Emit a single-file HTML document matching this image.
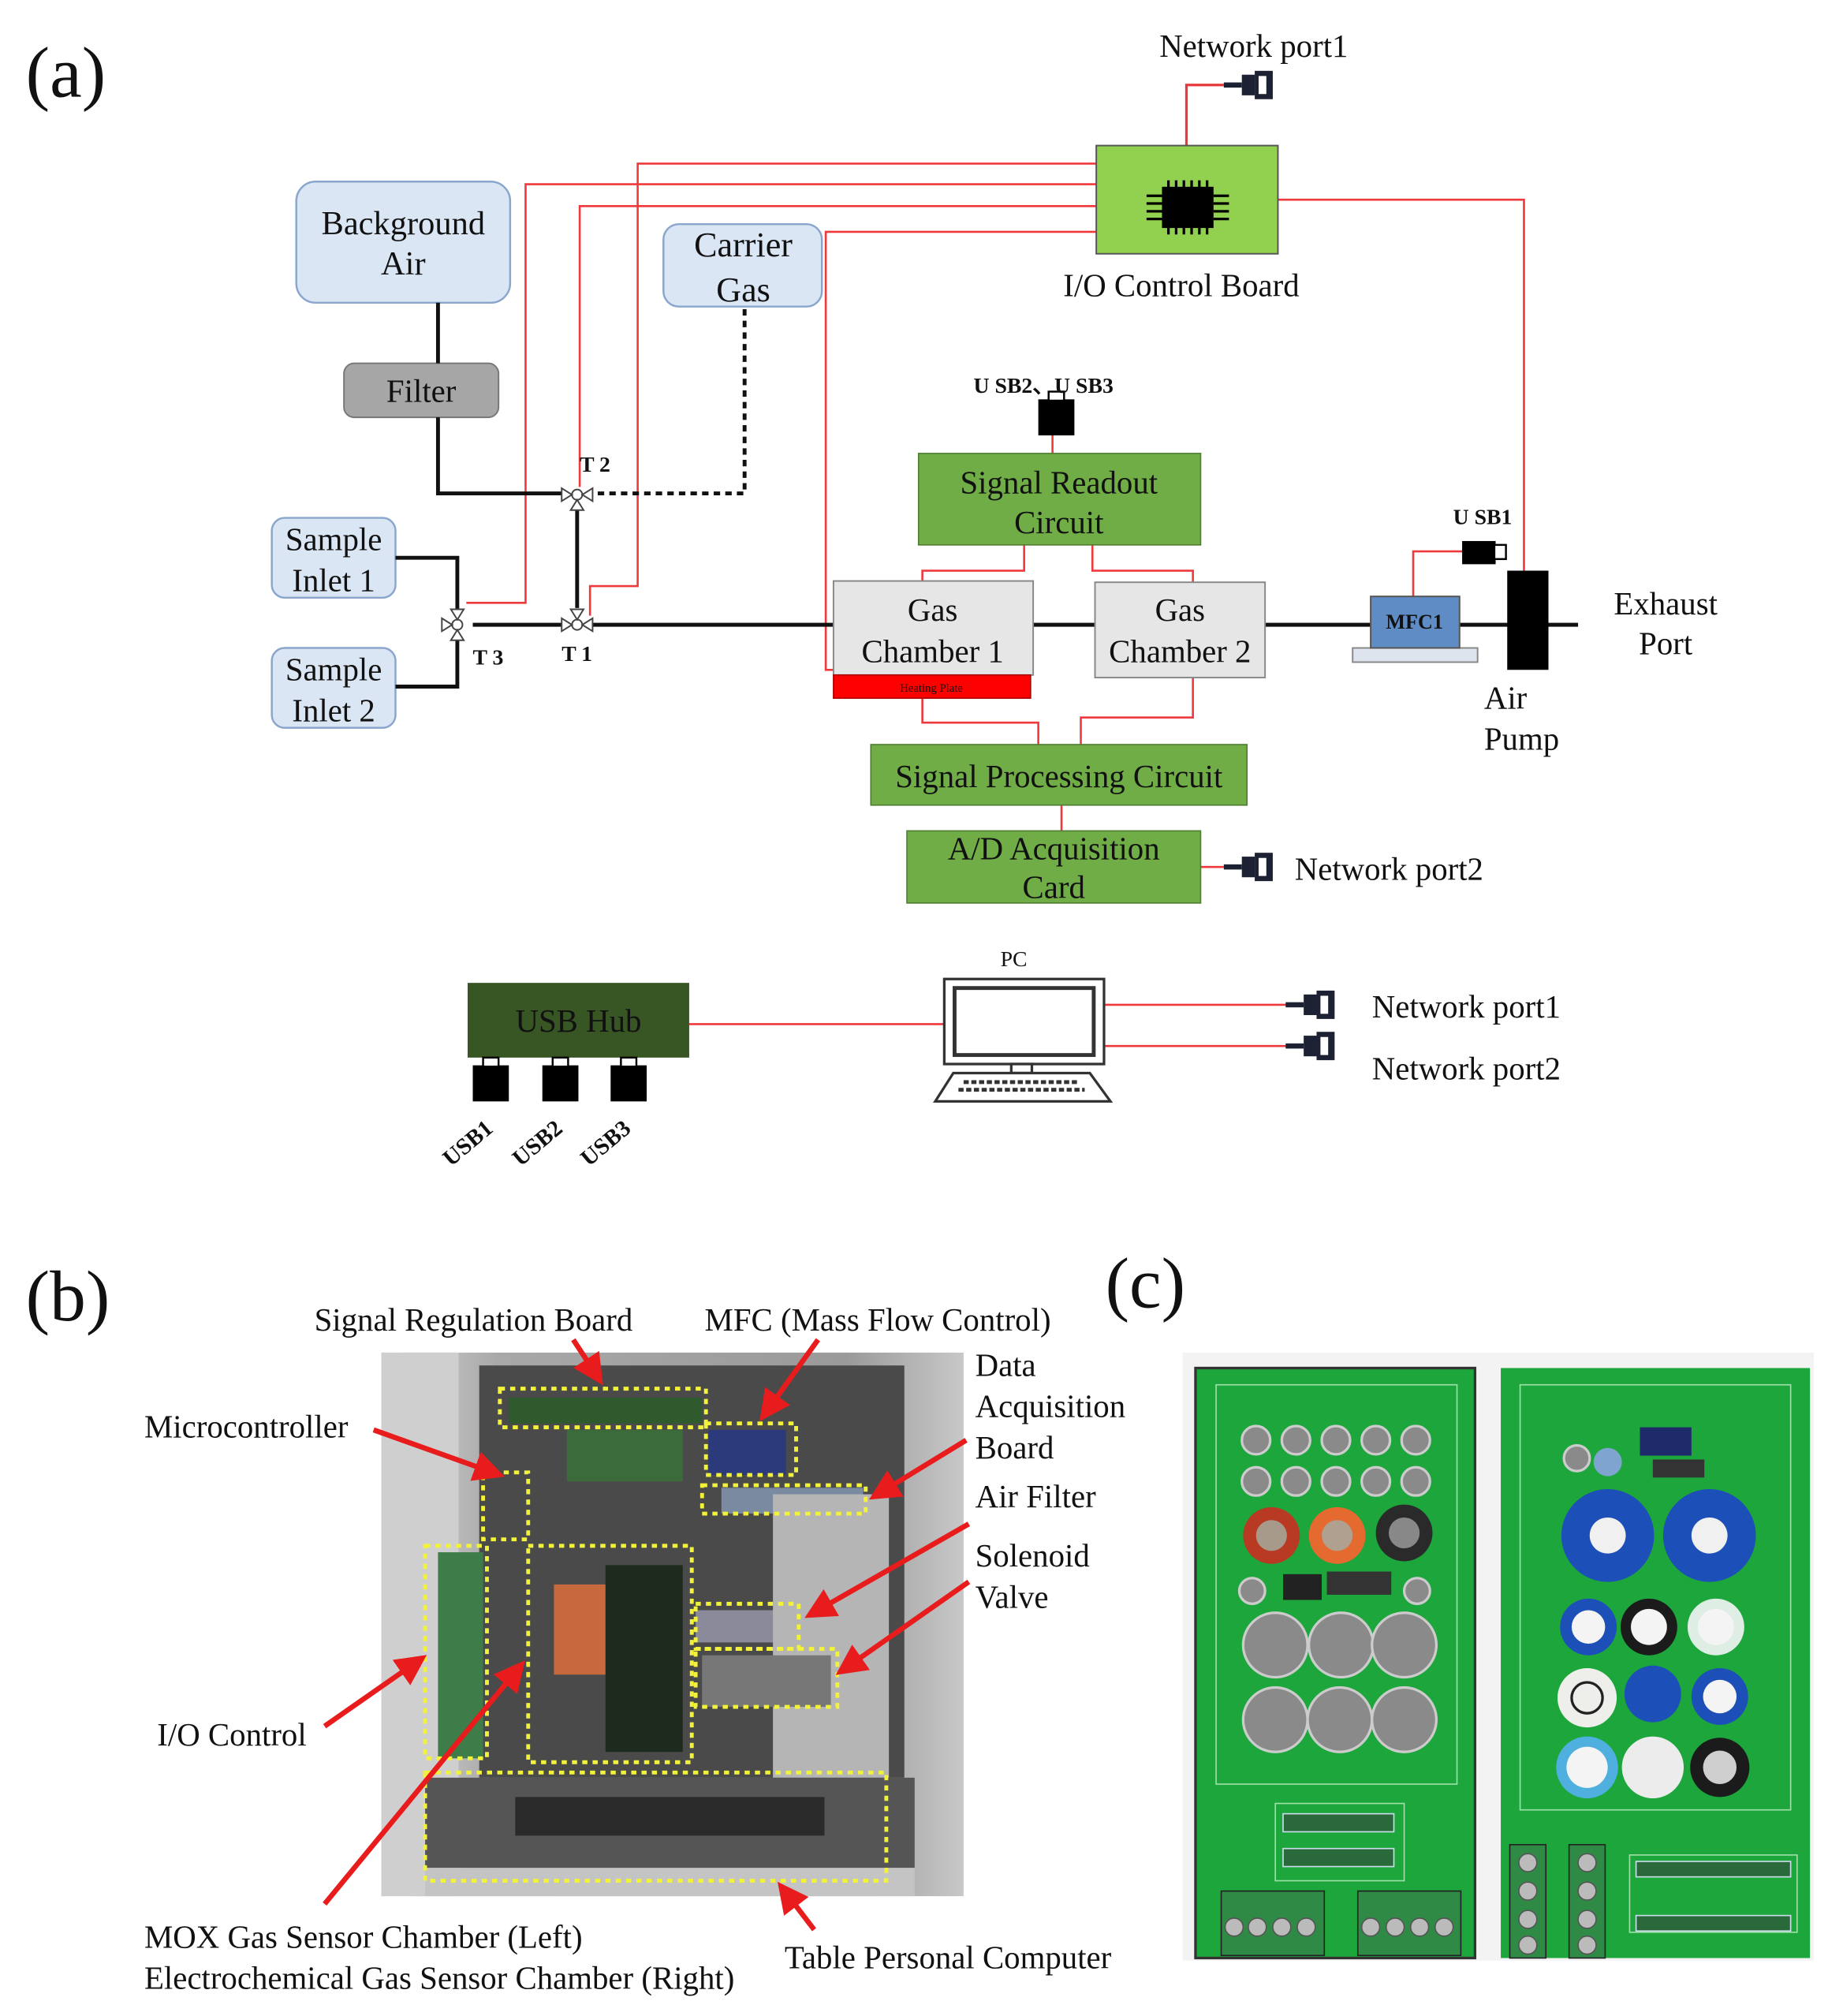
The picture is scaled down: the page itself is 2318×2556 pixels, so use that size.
<!DOCTYPE html>
<html><head><meta charset="utf-8"><style>
html,body{margin:0;padding:0;background:#fff}
svg{display:block}
text{font-family:"Liberation Serif",serif;fill:#111}
</style></head><body>
<svg width="2318" height="2556" viewBox="0 0 1419 1565" preserveAspectRatio="none" xmlns="http://www.w3.org/2000/svg">
<defs>
<marker id="ah" markerWidth="6" markerHeight="6" refX="5" refY="3" orient="auto"><path d="M0,0 L6,3 L0,6 z" fill="#e81c1c"/></marker>
<g id="valve"><circle cx="0" cy="0" r="4" fill="#fff" stroke="#444" stroke-width="1.2"/>
<path d="M-4,0 L-12,-5 L-12,5 z M4,0 L12,-5 L12,5 z M0,4 L-5,12 L5,12 z" fill="#fff" stroke="#444" stroke-width="1.2"/></g>
<g id="net"><rect x="0" y="-2" width="14" height="4" fill="#1c2233"/><rect x="14" y="-8" width="10" height="16" fill="#1c2233"/><rect x="24" y="-11" width="14" height="22" fill="#1c2233"/><rect x="27" y="-7" width="6" height="14" fill="#fff"/></g>
<g id="usb"><rect x="0" y="6" width="28" height="28" fill="#000"/><rect x="8" y="0" width="12" height="7" fill="#fff" stroke="#000" stroke-width="1.5"/></g>
</defs>
<rect width="1419" height="1565" fill="#fff"/>

<!-- (a) -->
<text x="20" y="75" font-size="56">(a)</text>
<text x="900" y="44" font-size="25">Network port1</text>
<polyline points="921,113 921,66 950,66" fill="none" stroke="#e8393d" stroke-width="2"/>
<use href="#net" x="950" y="66"/>

<!-- red wires -->
<g fill="none" stroke="#ef3a3d" stroke-width="1.6">
<polyline points="851,127 495,127 495,455 458,455 458,478"/>
<polyline points="851,143 408,143 408,468 362,468"/>
<polyline points="851,160 450,160 450,378"/>
<polyline points="851,180 641,180 641,520 648,520"/>
<polyline points="992,155 1183,155 1183,443"/>
<polyline points="817,336 817,352"/>
<polyline points="795,423 795,443 716,443 716,451"/>
<polyline points="848,423 848,443 926,443 926,452"/>
<polyline points="716,542 716,561 806,561 806,578"/>
<polyline points="926,526 926,557 839,557 839,578"/>
<polyline points="824,625 824,645"/>
<polyline points="932,673 950,673"/>
<polyline points="1097,463 1097,428 1135,428"/>
<polyline points="535,795 733,795"/>
<polyline points="857,780 1000,780"/>
<polyline points="857,812 1000,812"/>
</g>

<!-- IO board -->
<rect x="851" y="113" width="141" height="84" fill="#92d050" stroke="#555" stroke-width="1.2"/>
<g stroke="#000" stroke-width="2">
<path d="M907,150 v-10 M913,150 v-10 M919,150 v-10 M925,150 v-10 M931,150 v-10 M937,150 v-10 M907,172 v10 M913,172 v10 M919,172 v10 M925,172 v10 M931,172 v10 M937,172 v10 M890,152 h12 M890,158 h12 M890,164 h12 M890,170 h12 M942,152 h12 M942,158 h12 M942,164 h12 M942,170 h12"/>
</g>
<rect x="902" y="145" width="40" height="32" fill="#000"/>
<text x="917" y="230" font-size="25" text-anchor="middle">I/O Control Board</text>

<!-- source boxes -->
<rect x="230" y="141" width="166" height="94" rx="15" fill="#dae6f4" stroke="#8aa6cc" stroke-width="1.5"/>
<text x="313" y="182" font-size="26" text-anchor="middle">Background</text>
<text x="313" y="213" font-size="26" text-anchor="middle">Air</text>
<rect x="515" y="174" width="123" height="64" rx="12" fill="#dae6f4" stroke="#8aa6cc" stroke-width="1.5"/>
<text x="577" y="199" font-size="27" text-anchor="middle">Carrier</text>
<text x="577" y="234" font-size="27" text-anchor="middle">Gas</text>
<rect x="267" y="282" width="120" height="42" rx="8" fill="#a6a6a6" stroke="#777" stroke-width="1.2"/>
<text x="327" y="312" font-size="25" text-anchor="middle">Filter</text>
<rect x="211" y="402" width="96" height="62" rx="10" fill="#dae6f4" stroke="#8aa6cc" stroke-width="1.5"/>
<text x="259" y="427" font-size="25" text-anchor="middle">Sample</text>
<text x="259" y="459" font-size="25" text-anchor="middle">Inlet 1</text>
<rect x="211" y="503" width="96" height="62" rx="10" fill="#dae6f4" stroke="#8aa6cc" stroke-width="1.5"/>
<text x="259" y="528" font-size="25" text-anchor="middle">Sample</text>
<text x="259" y="560" font-size="25" text-anchor="middle">Inlet 2</text>

<!-- black pipes -->
<g fill="none" stroke="#111" stroke-width="3">
<polyline points="340,235 340,282"/>
<polyline points="340,324 340,383 436,383"/>
<polyline points="307,433 355,433 355,474"/>
<polyline points="307,533 355,533 355,496"/>
<polyline points="448,395 448,472"/>
<polyline points="367,485 436,485"/>
<polyline points="460,485 647,485"/>
<polyline points="802,485 850,485"/>
<polyline points="982,485 1225,485"/>
</g>
<polyline points="578,240 578,383 460,383" fill="none" stroke="#111" stroke-width="3" stroke-dasharray="5,4"/>
<use href="#valve" x="448" y="384"/>
<use href="#valve" x="448" y="485" transform="rotate(180 448 485)"/>
<use href="#valve" x="355" y="485" transform="rotate(90 355 485)"/>
<g font-weight="bold" font-size="17"><text x="450" y="366">T 2</text><text x="436" y="513">T 1</text><text x="367" y="516">T 3</text></g>

<!-- chambers -->
<rect x="713" y="352" width="219" height="71" fill="#70ad47" stroke="#4f7e30" stroke-width="1"/>
<text x="822" y="383" font-size="25" text-anchor="middle">Signal Readout</text>
<text x="822" y="414" font-size="25" text-anchor="middle">Circuit</text>
<use href="#usb" x="806" y="304"/>
<text x="810" y="305" font-size="17" font-weight="bold" text-anchor="middle">U SB2、U SB3</text>
<rect x="647" y="451" width="155" height="73" fill="#e7e6e6" stroke="#888" stroke-width="1.2"/>
<text x="724" y="482" font-size="25" text-anchor="middle">Gas</text>
<text x="724" y="514" font-size="25" text-anchor="middle">Chamber 1</text>
<rect x="647" y="524" width="153" height="18" fill="#ff0000" stroke="#a00" stroke-width="1"/>
<text x="723" y="537" font-size="9" text-anchor="middle" fill="#700">Heating Plate</text>
<rect x="850" y="452" width="132" height="74" fill="#e7e6e6" stroke="#888" stroke-width="1.2"/>
<text x="916" y="482" font-size="25" text-anchor="middle">Gas</text>
<text x="916" y="514" font-size="25" text-anchor="middle">Chamber 2</text>
<rect x="676" y="578" width="292" height="47" fill="#70ad47" stroke="#4f7e30" stroke-width="1"/>
<text x="822" y="611" font-size="25" text-anchor="middle">Signal Processing Circuit</text>
<rect x="704" y="645" width="228" height="56" fill="#70ad47" stroke="#4f7e30" stroke-width="1"/>
<text x="818" y="667" font-size="25" text-anchor="middle">A/D Acquisition</text>
<text x="818" y="697" font-size="25" text-anchor="middle">Card</text>
<use href="#net" x="950" y="673"/>
<text x="1005" y="683" font-size="25">Network port2</text>

<!-- MFC / pump -->
<rect x="1050" y="503" width="97" height="11" fill="#dde4ee" stroke="#888" stroke-width="1.2"/>
<rect x="1064" y="463" width="69" height="40" fill="#5f8cc4" stroke="#555" stroke-width="1.2"/>
<text x="1098" y="488" font-size="16" font-weight="bold" text-anchor="middle" fill="#102040">MFC1</text>
<rect x="1135" y="420" width="26" height="18" fill="#000"/><rect x="1160" y="423" width="9" height="11" fill="#fff" stroke="#000" stroke-width="1.5"/>
<text x="1128" y="407" font-size="17" font-weight="bold">U SB1</text>
<rect x="1170" y="443" width="32" height="77" fill="#000"/>
<text x="1293" y="477" font-size="25" text-anchor="middle">Exhaust</text>
<text x="1293" y="508" font-size="25" text-anchor="middle">Port</text>
<text x="1152" y="550" font-size="25">Air</text>
<text x="1152" y="582" font-size="25">Pump</text>

<!-- USB hub / PC -->
<rect x="363" y="763" width="172" height="58" fill="#375623"/>
<text x="449" y="801" font-size="25" text-anchor="middle" fill="#bfbfbf">USB Hub</text>
<use href="#usb" x="367" y="821"/><use href="#usb" x="421" y="821"/><use href="#usb" x="474" y="821"/>
<g font-size="18" font-weight="bold">
<text transform="translate(350,906) rotate(-40)">USB1</text>
<text transform="translate(404,906) rotate(-40)">USB2</text>
<text transform="translate(457,906) rotate(-40)">USB3</text></g>
<text x="787" y="750" font-size="17" text-anchor="middle">PC</text>
<rect x="733" y="760" width="124" height="66" fill="#fff" stroke="#333" stroke-width="2"/>
<rect x="741" y="767" width="108" height="52" fill="#fff" stroke="#333" stroke-width="3"/>
<rect x="785" y="826" width="16" height="7" fill="#fff" stroke="#333" stroke-width="2"/>
<path d="M740,833 L846,833 L862,855 L726,855 z" fill="#fff" stroke="#333" stroke-width="2"/>
<path d="M748,840 h90 M744,846 h98" stroke="#333" stroke-width="3" stroke-dasharray="4,2"/>
<use href="#net" x="998" y="780"/><use href="#net" x="998" y="812"/>
<text x="1065" y="790" font-size="25">Network port1</text>
<text x="1065" y="838" font-size="25">Network port2</text>

<!-- (b) -->
<text x="20" y="1025" font-size="56">(b)</text>
<defs><linearGradient id="gb" x1="0" x2="1"><stop offset="0" stop-color="#d9d9d9"/><stop offset="0.2" stop-color="#a8a8a8"/><stop offset="0.8" stop-color="#9a9a9a"/><stop offset="1" stop-color="#c8c8c8"/></linearGradient></defs>
<rect x="296" y="1050" width="452" height="422" fill="url(#gb)"/>
<rect x="296" y="1050" width="60" height="422" fill="#cfcfcf"/>
<rect x="372" y="1060" width="330" height="320" fill="#4a4a4a"/>
<rect x="395" y="1085" width="150" height="20" fill="#2e5a2e"/>
<rect x="440" y="1110" width="90" height="40" fill="#3b6b3b"/>
<rect x="550" y="1110" width="60" height="35" fill="#2a3a7a"/>
<rect x="560" y="1155" width="110" height="20" fill="#7a8aa0"/>
<rect x="430" y="1230" width="45" height="70" fill="#c8693d"/>
<rect x="470" y="1215" width="60" height="145" fill="#1f2a1f"/>
<rect x="340" y="1205" width="35" height="160" fill="#3e7d4a"/>
<rect x="540" y="1250" width="80" height="25" fill="#8a8a9a"/>
<rect x="600" y="1160" width="90" height="220" fill="#b5b5b5"/>
<rect x="545" y="1285" width="100" height="40" fill="#777"/>
<rect x="330" y="1380" width="380" height="70" fill="#555"/>
<rect x="400" y="1395" width="240" height="30" fill="#2a2a2a"/>
<rect x="330" y="1450" width="380" height="22" fill="#c4c4c4"/>
<g fill="none" stroke="#f2f23a" stroke-width="3" stroke-dasharray="4,4">
<rect x="388" y="1078" width="160" height="30"/>
<rect x="548" y="1105" width="70" height="40"/>
<rect x="545" y="1153" width="127" height="22"/>
<rect x="375" y="1143" width="35" height="52"/>
<rect x="330" y="1200" width="48" height="165"/>
<rect x="410" y="1200" width="127" height="168"/>
<rect x="540" y="1245" width="80" height="35"/>
<rect x="540" y="1280" width="110" height="45"/>
<rect x="330" y="1376" width="358" height="84"/>
</g>
<g stroke="#e81c1c" stroke-width="4" marker-end="url(#ah)">
<line x1="445" y1="1040" x2="466" y2="1072"/>
<line x1="635" y1="1040" x2="592" y2="1100"/>
<line x1="290" y1="1110" x2="388" y2="1145"/>
<line x1="750" y1="1118" x2="678" y2="1162"/>
<line x1="752" y1="1183" x2="628" y2="1254"/>
<line x1="752" y1="1228" x2="652" y2="1298"/>
<line x1="252" y1="1340" x2="328" y2="1287"/>
<line x1="252" y1="1478" x2="405" y2="1292"/>
<line x1="632" y1="1498" x2="606" y2="1464"/>
</g>
<g font-size="25">
<text x="244" y="1033">Signal Regulation Board</text>
<text x="547" y="1033">MFC (Mass Flow Control)</text>
<text x="757" y="1068">Data</text><text x="757" y="1100">Acquisition</text><text x="757" y="1132">Board</text>
<text x="757" y="1170">Air Filter</text>
<text x="757" y="1216">Solenoid</text><text x="757" y="1248">Valve</text>
<text x="112" y="1116">Microcontroller</text>
<text x="122" y="1355">I/O Control</text>
<text x="112" y="1512">MOX Gas Sensor Chamber (Left)</text>
<text x="112" y="1544">Electrochemical Gas Sensor Chamber (Right)</text>
<text x="609" y="1528">Table Personal Computer</text>
</g>

<!-- (c) -->
<text x="858" y="1015" font-size="56">(c)</text>
<rect x="918" y="1050" width="490" height="472" fill="#f3f3f3"/>
<rect x="928" y="1062" width="217" height="458" fill="#1ca63c" stroke="#333" stroke-width="2"/>
<rect x="1165" y="1062" width="240" height="458" fill="#1ca63c"/>
<g fill="none" stroke="#9fe0a8" stroke-width="1"><rect x="944" y="1075" width="187" height="310"/><rect x="1180" y="1075" width="210" height="330"/><rect x="990" y="1400" width="100" height="60"/><rect x="1265" y="1440" width="130" height="60"/></g>
<g fill="#8a8a8a" stroke="#ccc" stroke-width="2">
<circle cx="975" cy="1118" r="11"/><circle cx="1006" cy="1118" r="11"/><circle cx="1037" cy="1118" r="11"/><circle cx="1068" cy="1118" r="11"/><circle cx="1099" cy="1118" r="11"/>
<circle cx="975" cy="1150" r="11"/><circle cx="1006" cy="1150" r="11"/><circle cx="1037" cy="1150" r="11"/><circle cx="1068" cy="1150" r="11"/><circle cx="1099" cy="1150" r="11"/>
<circle cx="972" cy="1235" r="10"/><circle cx="1100" cy="1235" r="10"/>
<circle cx="990" cy="1277" r="25"/><circle cx="1041" cy="1277" r="25"/><circle cx="1090" cy="1277" r="25"/>
<circle cx="990" cy="1335" r="25"/><circle cx="1040" cy="1335" r="25"/><circle cx="1090" cy="1335" r="25"/>
<circle cx="1224" cy="1132" r="10"/>
</g>
<circle cx="987" cy="1192" r="22" fill="#b83a22"/><circle cx="987" cy="1192" r="12" fill="#a89a8a"/>
<circle cx="1038" cy="1192" r="22" fill="#e46a30"/><circle cx="1038" cy="1192" r="12" fill="#b0a090"/>
<circle cx="1090" cy="1190" r="22" fill="#2a2a2a"/><circle cx="1090" cy="1190" r="12" fill="#888"/>
<rect x="996" y="1222" width="30" height="20" fill="#222"/><rect x="1030" y="1220" width="50" height="18" fill="#333"/>
<rect x="1273" y="1108" width="40" height="22" fill="#1e2a6a"/><rect x="1283" y="1133" width="40" height="14" fill="#333"/>
<circle cx="1248" cy="1135" r="11" fill="#7fa4d0"/>
<g>
<circle cx="1248" cy="1192" r="36" fill="#1d4fb8"/><circle cx="1248" cy="1192" r="14" fill="#f0f0f0"/>
<circle cx="1327" cy="1192" r="36" fill="#1d4fb8"/><circle cx="1327" cy="1192" r="14" fill="#f0f0f0"/>
<circle cx="1233" cy="1263" r="22" fill="#1d4fb8"/><circle cx="1233" cy="1263" r="13" fill="#f4f4f4"/>
<circle cx="1280" cy="1263" r="22" fill="#1b1b1b"/><circle cx="1280" cy="1263" r="14" fill="#f4f4f4"/>
<circle cx="1332" cy="1263" r="22" fill="#dfeee5"/><circle cx="1332" cy="1263" r="14" fill="#f4f4f4"/>
<circle cx="1232" cy="1318" r="23" fill="#eeeeea"/><circle cx="1232" cy="1318" r="12" fill="none" stroke="#222" stroke-width="2"/>
<circle cx="1283" cy="1315" r="22" fill="#1d4fb8"/>
<circle cx="1335" cy="1317" r="22" fill="#1d4fb8"/><circle cx="1335" cy="1317" r="13" fill="#f4f4f4"/>
<circle cx="1232" cy="1372" r="24" fill="#4fb0e0"/><circle cx="1232" cy="1372" r="16" fill="#f4f4f4"/>
<circle cx="1283" cy="1372" r="24" fill="#ececec"/>
<circle cx="1335" cy="1372" r="23" fill="#1b1b1b"/><circle cx="1335" cy="1372" r="13" fill="#cfcfcf"/>
</g>
<g fill="#2a6a3a" stroke="#cde" stroke-width="1">
<rect x="996" y="1408" width="86" height="14"/><rect x="996" y="1435" width="86" height="14"/>
<rect x="1270" y="1445" width="120" height="12"/><rect x="1270" y="1487" width="120" height="12"/>
</g>
<g fill="#2f8a45" stroke="#222" stroke-width="1">
<rect x="948" y="1468" width="80" height="50"/><rect x="1054" y="1468" width="80" height="50"/>
<rect x="1172" y="1432" width="28" height="88"/><rect x="1218" y="1432" width="28" height="88"/>
</g>
<g fill="#bbb" stroke="#555" stroke-width="1">
<circle cx="958" cy="1496" r="7"/><circle cx="976" cy="1496" r="7"/><circle cx="995" cy="1496" r="7"/><circle cx="1014" cy="1496" r="7"/>
<circle cx="1064" cy="1496" r="7"/><circle cx="1083" cy="1496" r="7"/><circle cx="1102" cy="1496" r="7"/><circle cx="1121" cy="1496" r="7"/>
<circle cx="1186" cy="1446" r="7"/><circle cx="1186" cy="1468" r="7"/><circle cx="1186" cy="1490" r="7"/><circle cx="1186" cy="1510" r="7"/>
<circle cx="1232" cy="1446" r="7"/><circle cx="1232" cy="1468" r="7"/><circle cx="1232" cy="1490" r="7"/><circle cx="1232" cy="1510" r="7"/>
</g>
</svg>
</body></html>
